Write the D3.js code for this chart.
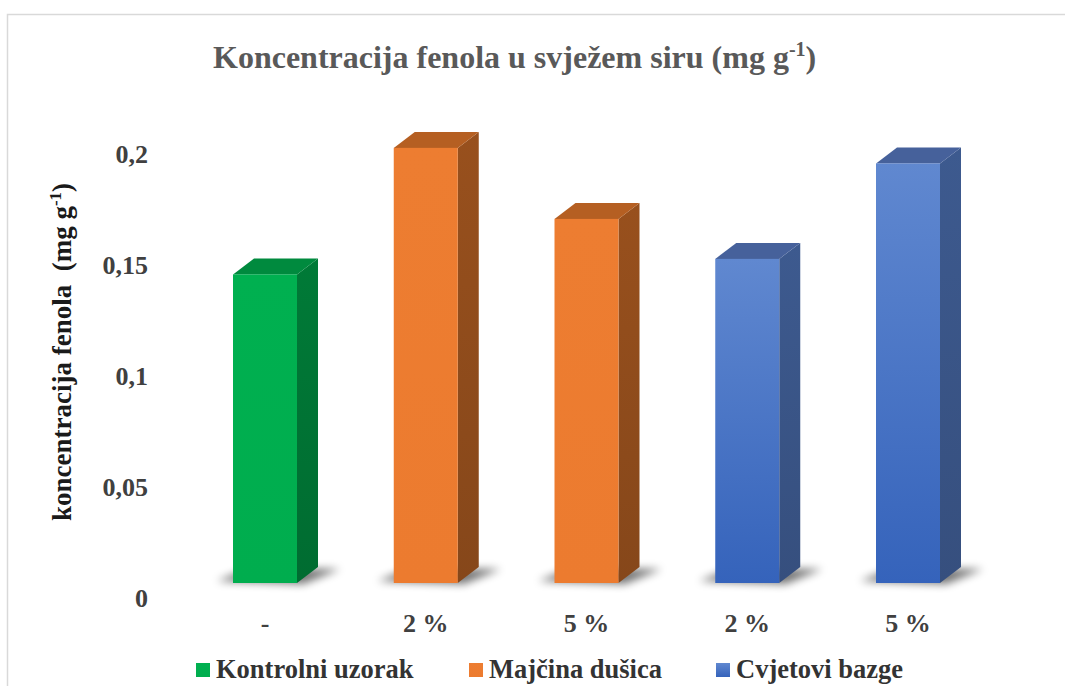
<html>
<head>
<meta charset="utf-8">
<style>
    body { margin:0; background:white; }
    text { font-family:"Liberation Serif","Times New Roman",serif; font-weight:bold; }
</style>
</head>
<body>
<svg id="chart"></svg>
<script src="https://d3js.org/d3.v7.min.js"></script>
<script>

// data
var categories = ["-", "2 %", "5 %", "2 %", "5 %"];
var barSeries = ["Kontrolni uzorak", "Majčina dušica", "Majčina dušica", "Cvjetovi bazge", "Cvjetovi bazge"];
var values = [0.139, 0.196, 0.164, 0.146, 0.189];
var seriesNames = ["Kontrolni uzorak", "Majčina dušica", "Cvjetovi bazge"];
var yTicks = [0, 0.05, 0.1, 0.15, 0.2];
var yTickLabels = ["0", "0,05", "0,1", "0,15", "0,2"];

var colors = {
    "Kontrolni uzorak": {front:"#00b050", frontDark:"#00ad4e", side:"#007a37", top:"#008a3e"},
    "Majčina dušica":   {front:"#ed7d31", frontDark:"#ec7b2f", side:"#98501d", top:"#b55f22"},
    "Cvjetovi bazge":   {front:"#6088d0", frontDark:"#3563bb", side:"#3d5a8f", top:"#46619b"}
};

var screen = {width:1065, height:686};
var depth = {dx:21, dy:-16};
var barWidth = 64;

var svg = d3.select("#chart")
    .attr("width", screen.width)
    .attr("height", screen.height);

// outer frame of the chart area
svg.append("rect")
    .attr("x", 7.5).attr("y", 14.5)
    .attr("width", 1100).attr("height", 700)
    .attr("fill", "white")
    .attr("stroke", "#d9d9d9")
    .attr("stroke-width", 1.5);

var defs = svg.append("defs");
defs.append("filter").attr("id", "blur")
    .attr("x", "-50%").attr("y", "-100%").attr("width", "200%").attr("height", "300%")
    .append("feGaussianBlur").attr("stdDeviation", 4);

seriesNames.forEach(function(name, i)
{
    var c = colors[name];
    var gf = defs.append("linearGradient").attr("id", "front" + i)
        .attr("x1", 0).attr("y1", 0).attr("x2", 0).attr("y2", 1);
    gf.append("stop").attr("offset", "0%").attr("stop-color", c.front);
    gf.append("stop").attr("offset", "100%").attr("stop-color", c.frontDark);
    var gs = defs.append("linearGradient").attr("id", "side" + i)
        .attr("x1", 0).attr("y1", 0).attr("x2", 0).attr("y2", 1);
    gs.append("stop").attr("offset", "0%").attr("stop-color", c.side);
    gs.append("stop").attr("offset", "100%").attr("stop-color", d3.color(c.side).darker(0.35));
});

var xScale = d3.scalePoint()
    .domain(d3.range(categories.length))
    .range([265, 908]);

var yScale = d3.scaleLinear()
    .domain([0, 0.2])
    .range([583, 139]);

// title
var title = svg.append("text")
    .attr("x", 213)
    .attr("y", 68)
    .attr("font-size", 32)
    .attr("fill", "#595959");
title.append("tspan").text("Koncentracija fenola u svježem siru (mg g");
title.append("tspan").attr("dy", -12).attr("font-size", 20).text("-1");
title.append("tspan").attr("dy", 12).text(")");

// y axis title
var yTitle = svg.append("text")
    .attr("transform", "translate(71,352) rotate(-90)")
    .attr("text-anchor", "middle")
    .attr("font-size", 27)
    .attr("fill", "#1a1a1a");
yTitle.append("tspan").text("koncentracija fenola\u00a0 (mg g");
yTitle.append("tspan").attr("dy", -10).attr("font-size", 17).text("-1");
yTitle.append("tspan").attr("dy", 10).text(")");

// y tick labels (no axis line in the original)
svg.append("g")
    .selectAll("text")
    .data(yTicks)
    .enter()
    .append("text")
    .attr("x", 148)
    .attr("y", function(d) { return yScale(d) + 15 + 9; })
    .attr("text-anchor", "end")
    .attr("font-size", 26)
    .attr("fill", "#404040")
    .text(function(d, i) { return yTickLabels[i]; });

// shadows
var bars = d3.range(values.length);

svg.append("g")
    .selectAll("polygon")
    .data(bars)
    .enter()
    .append("polygon")
    .attr("points", function(i)
    {
        var x0 = xScale(i) - barWidth / 2, x1 = x0 + barWidth, y0 = yScale(0);
        return [[x0 - 16, y0 - 2], [x1 + 6, y0 + 1], [x1 + depth.dx + 22, y0 + depth.dy + 2], [x0 + depth.dx - 6, y0 + depth.dy + 2]].join(" ");
    })
    .attr("fill", "#000")
    .attr("opacity", 0.55)
    .attr("filter", "url(#blur)");

// 3d bars
var barG = svg.append("g")
    .selectAll("g")
    .data(bars)
    .enter()
    .append("g");

var seriesIndex = function(i) { return seriesNames.indexOf(barSeries[i]); };

barG.append("polygon")
    .attr("points", function(i)
    {
        var x1 = xScale(i) + barWidth / 2, yt = yScale(values[i]), yb = yScale(0);
        return [[x1, yt], [x1 + depth.dx, yt + depth.dy], [x1 + depth.dx, yb + depth.dy], [x1, yb]].join(" ");
    })
    .attr("fill", function(i) { return "url(#side" + seriesIndex(i) + ")"; });

barG.append("polygon")
    .attr("points", function(i)
    {
        var x0 = xScale(i) - barWidth / 2, x1 = x0 + barWidth, yt = yScale(values[i]);
        return [[x0, yt], [x0 + depth.dx, yt + depth.dy], [x1 + depth.dx, yt + depth.dy], [x1, yt]].join(" ");
    })
    .attr("fill", function(i) { return colors[barSeries[i]].top; });

barG.append("rect")
    .attr("x", function(i) { return xScale(i) - barWidth / 2; })
    .attr("y", function(i) { return yScale(values[i]); })
    .attr("width", barWidth)
    .attr("height", function(i) { return yScale(0) - yScale(values[i]); })
    .attr("fill", function(i) { return "url(#front" + seriesIndex(i) + ")"; });

// category labels
svg.append("g")
    .selectAll("text")
    .data(bars)
    .enter()
    .append("text")
    .attr("x", function(i) { return xScale(i); })
    .attr("y", 632)
    .attr("text-anchor", "middle")
    .attr("font-size", 26)
    .attr("fill", "#404040")
    .text(function(i) { return categories[i]; });

// legend
var legendX = [196, 469, 716];
var legend = svg.append("g")
    .selectAll("g")
    .data(seriesNames)
    .enter()
    .append("g")
    .attr("transform", function(d, i) { return "translate(" + legendX[i] + ",663)"; });

legend.append("rect")
    .attr("width", 14)
    .attr("height", 14)
    .attr("fill", function(d, i) { return "url(#front" + i + ")"; });

legend.append("text")
    .attr("x", 20)
    .attr("y", 15)
    .attr("font-size", 26.5)
    .attr("fill", "#333333")
    .text(function(d) { return d; });

</script>
</body>
</html>
